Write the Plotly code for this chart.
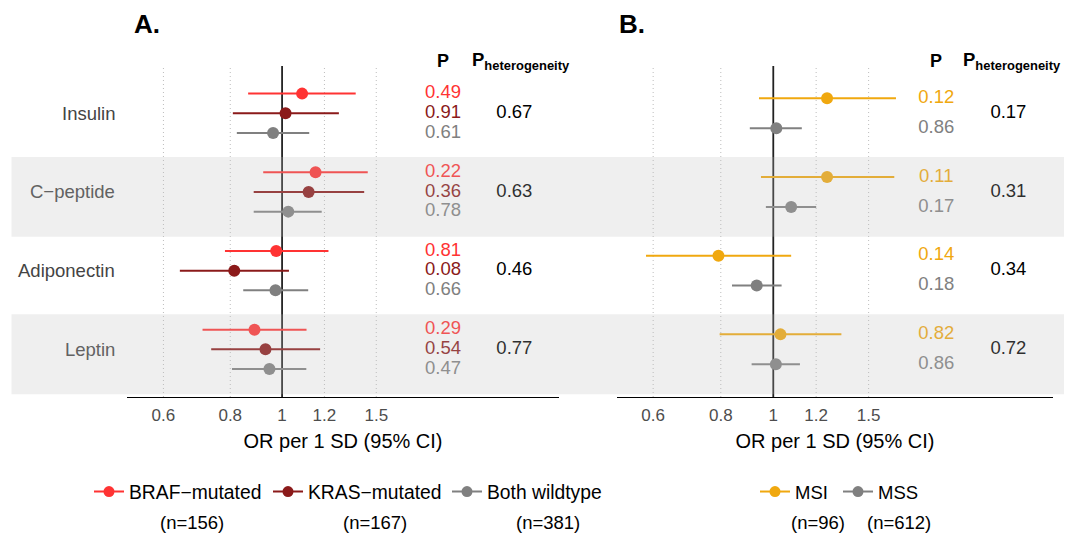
import math
import plotly.graph_objects as go

W, H = 1075, 533
FONT = "Liberation Sans"


def px(x):
    return x / W


def py(y):
    return 1 - y / H


# ---------------- data ----------------
biomarkers = ["Insulin", "C−peptide", "Adiponectin", "Leptin"]
tick_vals = [0.6, 0.8, 1, 1.2, 1.5]
tick_text = ["0.6", "0.8", "1", "1.2", "1.5"]

# Panel A: BRAF / KRAS / wildtype
braf_or = [1.090, 1.155, 0.975, 0.888]
braf_lo = [0.864, 0.922, 0.782, 0.710]
braf_hi = [1.373, 1.446, 1.221, 1.111]
braf_p = [0.49, 0.22, 0.81, 0.29]

kras_or = [1.015, 1.121, 0.814, 0.931]
kras_lo = [0.809, 0.885, 0.644, 0.737]
kras_hi = [1.277, 1.424, 1.030, 1.178]
kras_p = [0.91, 0.36, 0.08, 0.54]

wt_or = [0.962, 1.027, 0.972, 0.947]
wt_lo = [0.823, 0.885, 0.846, 0.806]
wt_hi = [1.124, 1.186, 1.119, 1.110]
wt_p = [0.61, 0.78, 0.66, 0.47]

phet_a = [0.67, 0.63, 0.46, 0.77]

# Panel B: MSI / MSS
msi_or = [1.257, 1.257, 0.792, 1.031]
msi_lo = [0.941, 0.949, 0.582, 0.796]
msi_hi = [1.685, 1.673, 1.079, 1.336]
msi_p = [0.12, 0.11, 0.14, 0.82]

mss_or = [1.013, 1.079, 0.932, 1.011]
mss_lo = [0.905, 0.969, 0.839, 0.912]
mss_hi = [1.129, 1.200, 1.036, 1.120]
mss_p = [0.86, 0.17, 0.18, 0.86]

phet_b = [0.17, 0.31, 0.34, 0.72]

groups_a = [
    ("BRAF−mutated", "(n=156)", "#FF3333", braf_or, braf_lo, braf_hi, braf_p),
    ("KRAS−mutated", "(n=167)", "#8B1A1A", kras_or, kras_lo, kras_hi, kras_p),
    ("Both wildtype", "(n=381)", "#808080", wt_or, wt_lo, wt_hi, wt_p),
]
groups_b = [
    ("MSI", "(n=96)", "#F0A80F", msi_or, msi_lo, msi_hi, msi_p),
    ("MSS", "(n=612)", "#808080", mss_or, mss_lo, mss_hi, mss_p),
]

# ---------------- layout helpers ----------------
n_rows = len(biomarkers)
row_y = [n_rows - i for i in range(n_rows)]  # Insulin on top
offs_a = [0.25, 0.0, -0.25]
offs_b = [0.19, -0.19]
P_X = 2.0
PHET_X = math.e
band_rows = [1, 3]

fig = go.Figure()


def add_panel(groups, offs, phet, xaxis, legend_name):
    for (name, ntxt, col, orv, lo, hi, pv), off in zip(groups, offs):
        ys = [r + off for r in row_y]
        fig.add_trace(go.Scatter(
            x=orv, y=ys, mode="markers", xaxis=xaxis, yaxis="y",
            marker=dict(color=col, size=12),
            error_x=dict(type="data", symmetric=False,
                         array=[h - o for h, o in zip(hi, orv)],
                         arrayminus=[o - l for o, l in zip(orv, lo)],
                         color=col, thickness=2, width=0),
            showlegend=False, hoverinfo="skip"))
        fig.add_trace(go.Scatter(
            x=[P_X] * n_rows, y=ys, mode="text", xaxis=xaxis, yaxis="y",
            text=[f"{p:.2f}" for p in pv],
            textfont=dict(color=col, size=18.5, family=FONT),
            textposition="middle center", showlegend=False, hoverinfo="skip"))
        # legend entry
        fig.add_trace(go.Scatter(
            x=[None], y=[None], mode="lines+markers", xaxis=xaxis, yaxis="y",
            name=name, line=dict(color=col, width=2),
            marker=dict(color=col, size=11), legend=legend_name))
    fig.add_trace(go.Scatter(
        x=[PHET_X] * n_rows, y=row_y, mode="text", xaxis=xaxis, yaxis="y",
        text=[f"{p:.2f}" for p in phet],
        textfont=dict(color="black", size=18.5, family=FONT),
        textposition="middle center", showlegend=False, hoverinfo="skip"))


add_panel(groups_a, offs_a, phet_a, "x", "legend")
add_panel(groups_b, offs_b, phet_b, "x2", "legend2")

xr = [math.log10(0.5138), math.log10(3.29)]
xax = dict(type="log", range=xr, tickvals=tick_vals, ticktext=tick_text,
           showgrid=False,
           showline=True, linecolor="black", linewidth=1.3, zeroline=False,
           ticks="", tickfont=dict(size=17, color="#4D4D4D", family=FONT),
           ticklabelstandoff=2,
           title=dict(text="OR per 1 SD (95% CI)", standoff=10,
                      font=dict(size=20, color="black", family=FONT)),
           anchor="y", fixedrange=True)

shapes = []
annotations = []

# dotted grid lines and the reference line at OR = 1 (below the marks)
for xa in ["x", "x2"]:
    for tv in tick_vals:
        if tv == 1:
            continue
        shapes.append(dict(type="line", xref=xa, yref="y domain", x0=tv, x1=tv,
                           y0=0, y1=1, line=dict(color="#BDBDBD", width=1, dash="1px,3px"),
                           layer="below"))
    shapes.append(dict(type="line", xref=xa, yref="y domain", x0=1, x1=1,
                       y0=0, y1=1, line=dict(color="#222222", width=1.8),
                       layer="below"))

# bands (semi-transparent overlay drawn above the marks)
for i in band_rows:
    r = row_y[i]
    for x0, x1 in [(11.5, 598), (598, 1064)]:
        shapes.append(dict(type="rect", xref="paper", yref="y",
                           x0=px(x0), x1=px(x1), y0=r - 0.57, y1=r + 0.445,
                           fillcolor="rgba(190,190,190,0.245)", line_width=0,
                           layer="above"))


def blend(c, i):
    if i in band_rows:
        c = round(c * 0.755 + 46.5)
    return f"rgb({c},{c},{c})"


for i, (lab, r) in enumerate(zip(biomarkers, row_y)):
    annotations.append(dict(text=lab, xref="paper", yref="y", x=px(117), y=r,
                            xanchor="right", yanchor="middle", showarrow=False,
                            font=dict(size=18.5, color=blend(68, i), family=FONT)))

for xa, tx, tl, shift in [("x", "A.", 132, 7), ("x2", "B.", 617, 4)]:
    annotations.append(dict(text=f"<b>{tx}</b>", xref="paper", yref="paper",
                            x=px(tl), y=py(24), xanchor="left", yanchor="middle",
                            showarrow=False, font=dict(size=26, color="black", family=FONT)))
    annotations.append(dict(text="<b>P</b>", xref=xa, yref="paper", x=math.log10(P_X),
                            y=py(61), xanchor="center", yanchor="middle", showarrow=False,
                            font=dict(size=18, color="black", family=FONT)))
    annotations.append(dict(text="<b>P<sub>heterogeneity</sub></b>", xref=xa, yref="paper",
                            x=math.log10(PHET_X), xshift=shift, y=py(61),
                            xanchor="center", yanchor="middle", showarrow=False,
                            font=dict(size=18.5, color="black", family=FONT)))

for g, xc in zip(groups_a + groups_b, [192, 375, 548, 818, 899]):
    annotations.append(dict(text=g[1], xref="paper", yref="paper", x=px(xc), y=py(522),
                            xanchor="center", yanchor="middle", showarrow=False,
                            font=dict(size=18.5, color="black", family=FONT)))

leg = dict(orientation="h", xanchor="left", yanchor="middle", y=py(492),
           itemwidth=30,
           bgcolor="rgba(0,0,0,0)", entrywidthmode="pixels", traceorder="normal",
           itemclick=False, itemdoubleclick=False)

fig.update_layout(
    width=W, height=H, autosize=False,
    margin=dict(l=0, r=0, t=0, b=0),
    paper_bgcolor="white", plot_bgcolor="rgba(0,0,0,0)",
    font=dict(family=FONT, color="black"),
    xaxis=dict(xax, domain=[px(127.4), px(558.7)]),
    xaxis2=dict(xax, domain=[px(616.7), px(1053.3)]),
    yaxis=dict(domain=[py(397), py(66)], range=[0.394, 4.601], visible=False,
               fixedrange=True),
    legend=dict(leg, x=px(89), entrywidth=134,
                font=dict(size=19.3, color="black", family=FONT)),
    legend2=dict(leg, x=px(755), entrywidth=38,
                 font=dict(size=18.5, color="black", family=FONT)),
    shapes=shapes, annotations=annotations,
)

fig.write_html("out.html")
